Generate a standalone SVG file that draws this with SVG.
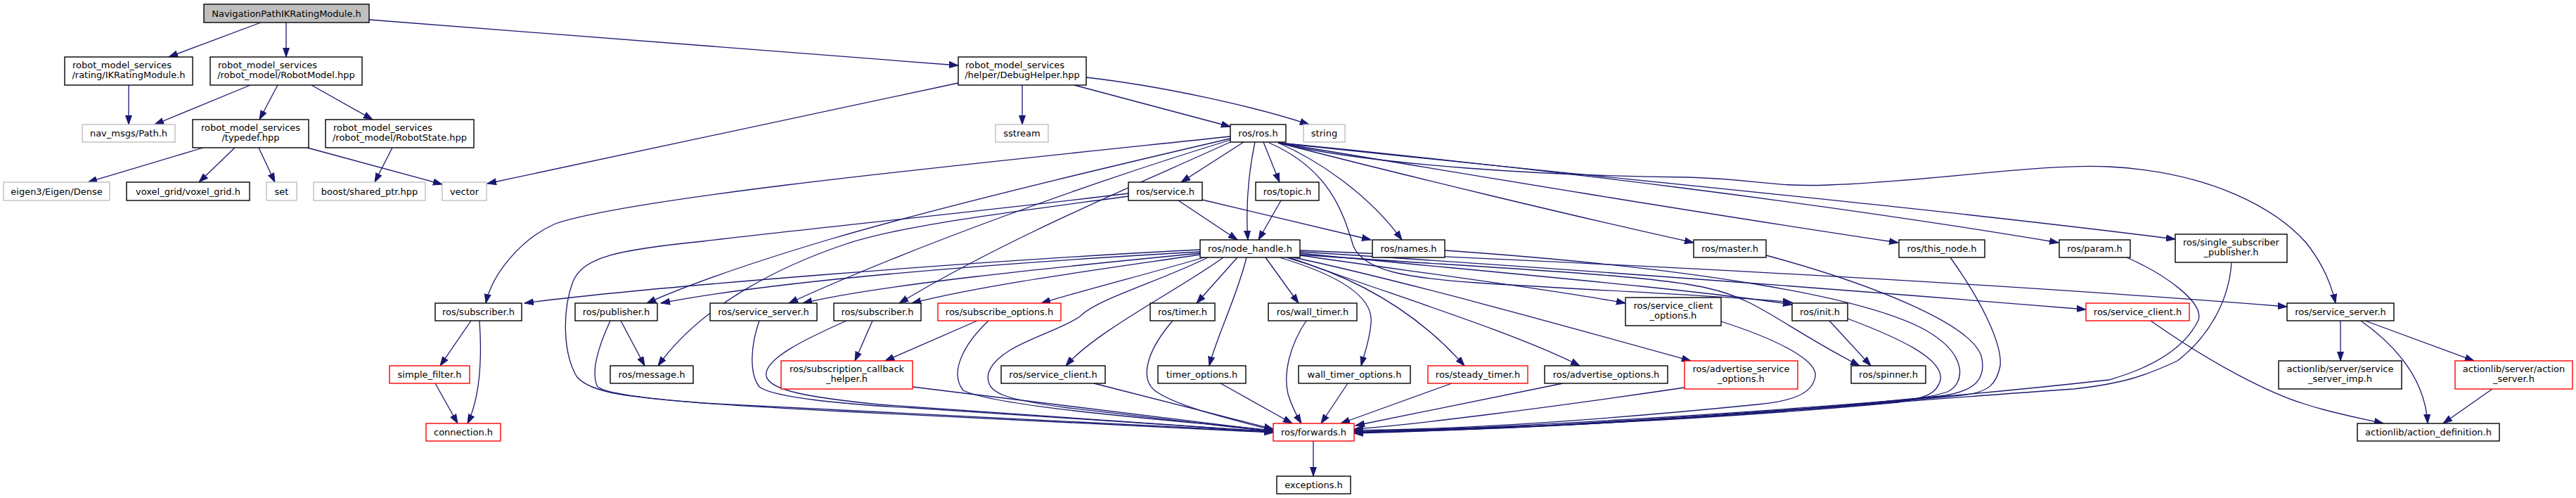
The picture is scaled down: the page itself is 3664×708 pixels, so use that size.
<svg xmlns="http://www.w3.org/2000/svg" width="3664" height="708" viewBox="0 0 3664 708">
<defs>
<marker id="a" markerUnits="userSpaceOnUse" markerWidth="14" markerHeight="10" refX="13" refY="5" orient="auto" viewBox="0 0 14 10"><path d="M0,0.5 L13,5 L0,9.5 z" fill="#191970" stroke="#191970" stroke-width="1"/></marker>
<style>
.n rect{fill:#fff;stroke:#000;stroke-width:1.4}
.g rect{stroke:#bfbfbf}
.r rect{stroke:#ff0000}
.root rect{fill:#bfbfbf}
text{font-family:"DejaVu Sans","Liberation Sans",sans-serif;font-size:13px;fill:#000;text-anchor:middle}
text.l{text-anchor:start}
.e path{fill:none;stroke:#191970;stroke-width:1.3;marker-end:url(#a)}
</style>
</defs>
<rect width="3664" height="708" fill="#fff"/>
<g id="edges" class="e">
<path d="M371,32 L240,81"/>
<path d="M407,32 L407,81"/>
<path d="M525,28 L1363,93"/>
<path d="M183,121 L183,177"/>
<path d="M356,121 L220,177"/>
<path d="M395,121 L369,170"/>
<path d="M443,121 L530,170"/>
<path d="M289,210 L125,259"/>
<path d="M334,210 L283,259"/>
<path d="M368,210 L391,259"/>
<path d="M437,210 L629,262"/>
<path d="M558,210 L533,259"/>
<path d="M1363,118 L693,261"/>
<path d="M1454,121 L1454,177"/>
<path d="M1528,121 L1750,180"/>
<path d="M1545,110 C1650,122 1780,150 1862,177"/>
<path d="M1769,202 L1680,259"/>
<path d="M1785,202 C1775,250 1772,300 1775,341"/>
<path d="M1797,202 L1820,259"/>
<path d="M1822,285 L1790,341"/>
<path d="M1676,285 L1760,341"/>
<path d="M1710,284 L1950,341"/>
<path d="M1818,203 C1880,230 1950,280 1994,341"/>
<path d="M1818,203 C2000,250 2250,310 2409,345"/>
<path d="M1818,203 C2100,250 2400,300 2700,345"/>
<path d="M1818,203 C2200,240 2600,290 2928,345"/>
<path d="M1818,203 C2200,245 2700,290 3094,340"/>
<path d="M1818,203 C1950,235 2200,250 2400,252 C2500,255 2520,266 2600,263 C2750,258 2900,232 3000,237 C3150,245 3240,300 3280,345 C3300,370 3315,400 3322,431"/>
<path d="M1750,194 C1400,231 900,280 790,318 C740,340 700,390 691,431"/>
<path d="M1750,197 C1500,255 1300,305 1181,340 C1080,370 990,400 920,431"/>
<path d="M1750,199 C1550,260 1300,350 1122,431"/>
<path d="M1750,202 C1600,270 1430,340 1279,431"/>
<path d="M1605,275 C1400,300 1150,325 1000,343 C880,355 830,365 815,400 C800,440 800,500 820,535 C840,560 900,565 1000,573 L1811,614"/>
<path d="M1605,279 C1450,300 1280,320 1200,348 C1120,375 1000,430 936,520"/>
<path d="M1707,355 C1400,370 900,410 746,431"/>
<path d="M1707,358 C1400,375 1100,400 940,431"/>
<path d="M1707,360 C1500,380 1250,405 1142,431"/>
<path d="M1707,362 C1550,385 1400,405 1297,431"/>
<path d="M1712,366 C1650,385 1550,410 1481,431"/>
<path d="M1740,366 C1680,410 1560,470 1516,520"/>
<path d="M1718,366 C1650,400 1560,425 1536,450 C1500,475 1420,490 1406,530 C1400,560 1430,568 1520,580 L1811,614"/>
<path d="M1760,366 L1702,431"/>
<path d="M1773,366 C1760,420 1730,480 1720,520"/>
<path d="M1800,366 L1847,431"/>
<path d="M1820,366 C1900,390 1955,420 1950,460 C1948,485 1940,505 1936,520"/>
<path d="M1830,366 C1950,400 2030,460 2083,520"/>
<path d="M1835,366 C1950,410 2150,470 2247,520"/>
<path d="M1840,366 C2000,400 2250,470 2405,513"/>
<path d="M1849,363 C2000,385 2200,410 2312,431"/>
<path d="M1849,360 C2100,385 2400,410 2549,433"/>
<path d="M1849,362 C2100,380 2350,390 2430,410 C2500,425 2530,460 2645,520"/>
<path d="M1849,358 C2200,380 2600,410 2967,440"/>
<path d="M1849,356 C2300,375 2800,400 3253,436"/>
<path d="M1805,203 C1890,240 1910,300 1925,350 C1940,385 2000,395 2100,402 C2300,415 2450,420 2549,430"/>
<path d="M2602,456 L2661,520"/>
<path d="M2628,453 C2700,480 2765,510 2760,540 C2755,560 2740,565 2700,572 C2400,600 2100,610 1926,614"/>
<path d="M2055,356 C2400,380 2650,420 2740,470 C2800,505 2795,545 2770,557 C2740,567 2700,570 2650,575 C2300,600 2100,612 1926,616"/>
<path d="M2512,363 C2650,400 2810,460 2819,510 C2825,545 2800,558 2760,563 C2400,600 2100,612 1926,615"/>
<path d="M2774,366 C2820,430 2848,490 2845,520 C2840,545 2830,558 2790,562 C2400,600 2100,612 1926,614"/>
<path d="M3025,366 C3080,390 3135,430 3127,455 C3110,490 3070,520 3000,540 C2600,585 2100,610 1926,614"/>
<path d="M3174,374 C3170,430 3140,480 3097,513 C3050,535 3020,545 2950,553 C2700,570 2500,590 2200,605 L1926,614"/>
<path d="M2448,457 C2520,480 2585,510 2582,535 C2578,560 2550,570 2500,575 C2300,595 2100,610 1926,612"/>
<path d="M2396,551 C2200,580 2000,605 1926,610"/>
<path d="M2223,545 L1928,605"/>
<path d="M2065,545 L1907,602"/>
<path d="M1917,545 L1879,602"/>
<path d="M1858,456 C1835,490 1825,530 1832,560 C1838,580 1845,592 1851,602"/>
<path d="M1736,545 L1838,602"/>
<path d="M1668,456 C1630,500 1620,540 1645,557 C1680,580 1750,595 1811,612"/>
<path d="M1556,545 L1811,610"/>
<path d="M1406,456 C1370,490 1350,530 1370,555 C1420,580 1700,600 1811,612"/>
<path d="M1298,550 L1811,613"/>
<path d="M1390,456 L1259,513"/>
<path d="M1241,456 L1216,513"/>
<path d="M1204,456 C1150,480 1085,510 1090,535 C1095,555 1150,565 1250,575 L1811,614"/>
<path d="M1080,456 C1068,490 1065,530 1080,550 C1100,565 1200,575 1300,580 L1811,614"/>
<path d="M868,456 C850,495 840,530 850,550 C870,565 1000,575 1200,585 L1811,615"/>
<path d="M883,456 L917,520"/>
<path d="M670,456 L626,520"/>
<path d="M682,456 C685,500 685,560 665,602"/>
<path d="M619,545 L651,602"/>
<path d="M1868,627 L1868,677"/>
<path d="M3329,456 L3329,513"/>
<path d="M3358,456 C3420,500 3450,550 3453,602"/>
<path d="M3364,456 L3519,513"/>
<path d="M3545,553 L3475,602"/>
<path d="M3059,456 C3150,520 3230,560 3280,575 C3320,588 3360,595 3390,602"/>
</g>
<g id="n1" class="n root"><rect x="290" y="6" width="235" height="26"/><text x="407.5" y="24">NavigationPathIKRatingModule.h</text></g>
<g id="n2" class="n"><rect x="92" y="81" width="182" height="40"/><text class="l" x="103" y="97">robot_model_services</text><text x="183" y="111">/rating/IKRatingModule.h</text></g>
<g id="n3" class="n"><rect x="299" y="81" width="216" height="40"/><text class="l" x="310" y="97">robot_model_services</text><text x="407" y="111">/robot_model/RobotModel.hpp</text></g>
<g id="n4" class="n"><rect x="1363" y="81" width="182" height="40"/><text class="l" x="1373" y="97">robot_model_services</text><text x="1454" y="111">/helper/DebugHelper.hpp</text></g>
<g id="n5" class="n g"><rect x="117" y="177" width="132" height="25"/><text x="183" y="194">nav_msgs/Path.h</text></g>
<g id="n6" class="n"><rect x="274" y="170" width="165" height="40"/><text x="356.5" y="186">robot_model_services</text><text x="356.5" y="200">/typedef.hpp</text></g>
<g id="n7" class="n"><rect x="463" y="170" width="211" height="40"/><text class="l" x="474" y="186">robot_model_services</text><text x="568.5" y="200">/robot_model/RobotState.hpp</text></g>
<g id="n8" class="n g"><rect x="1416" y="177" width="75" height="25"/><text x="1453.5" y="194">sstream</text></g>
<g id="n9" class="n"><rect x="1750" y="177" width="79" height="25"/><text x="1789.5" y="194">ros/ros.h</text></g>
<g id="n10" class="n g"><rect x="1854" y="177" width="59" height="25"/><text x="1883.5" y="194">string</text></g>
<g id="n11" class="n g"><rect x="5" y="259" width="151" height="26"/><text x="80.5" y="277">eigen3/Eigen/Dense</text></g>
<g id="n12" class="n"><rect x="180" y="259" width="175" height="26"/><text x="267.5" y="277">voxel_grid/voxel_grid.h</text></g>
<g id="n13" class="n g"><rect x="379" y="259" width="43" height="26"/><text x="400.5" y="277">set</text></g>
<g id="n14" class="n g"><rect x="446" y="259" width="159" height="26"/><text x="525.5" y="277">boost/shared_ptr.hpp</text></g>
<g id="n15" class="n g"><rect x="629" y="259" width="63" height="26"/><text x="660.5" y="277">vector</text></g>
<g id="n16" class="n"><rect x="1605" y="259" width="105" height="26"/><text x="1657.5" y="277">ros/service.h</text></g>
<g id="n17" class="n"><rect x="1786" y="259" width="90" height="26"/><text x="1831" y="277">ros/topic.h</text></g>
<g id="n18" class="n"><rect x="1707" y="341" width="142" height="25"/><text x="1778" y="358">ros/node_handle.h</text></g>
<g id="n19" class="n"><rect x="1952" y="341" width="103" height="25"/><text x="2003.5" y="358">ros/names.h</text></g>
<g id="n20" class="n"><rect x="2409" y="341" width="103" height="25"/><text x="2460.5" y="358">ros/master.h</text></g>
<g id="n21" class="n"><rect x="2701" y="341" width="122" height="25"/><text x="2762" y="358">ros/this_node.h</text></g>
<g id="n22" class="n"><rect x="2929" y="341" width="101" height="25"/><text x="2979.5" y="358">ros/param.h</text></g>
<g id="n23" class="n"><rect x="3094" y="333" width="159" height="40"/><text x="3173.5" y="349">ros/single_subscriber</text><text x="3173.5" y="363">_publisher.h</text></g>
<g id="n24" class="n"><rect x="619" y="431" width="123" height="25"/><text x="680.5" y="448">ros/subscriber.h</text></g>
<g id="n25" class="n"><rect x="818" y="431" width="117" height="25"/><text x="876.5" y="448">ros/publisher.h</text></g>
<g id="n26" class="n"><rect x="1010" y="431" width="152" height="25"/><text x="1086" y="448">ros/service_server.h</text></g>
<g id="n27" class="n"><rect x="1186" y="431" width="124" height="25"/><text x="1248" y="448">ros/subscriber.h</text></g>
<g id="n28" class="n r"><rect x="1334" y="431" width="175" height="25"/><text x="1421.5" y="448">ros/subscribe_options.h</text></g>
<g id="n29" class="n"><rect x="1636" y="431" width="92" height="25"/><text x="1682" y="448">ros/timer.h</text></g>
<g id="n30" class="n"><rect x="1804" y="431" width="126" height="25"/><text x="1867" y="448">ros/wall_timer.h</text></g>
<g id="n31" class="n"><rect x="2312" y="423" width="136" height="40"/><text x="2380" y="439">ros/service_client</text><text x="2380" y="453">_options.h</text></g>
<g id="n32" class="n"><rect x="2549" y="431" width="79" height="25"/><text x="2588.5" y="448">ros/init.h</text></g>
<g id="n33" class="n r"><rect x="2967" y="431" width="147" height="25"/><text x="3040.5" y="448">ros/service_client.h</text></g>
<g id="n34" class="n"><rect x="3253" y="431" width="152" height="25"/><text x="3329" y="448">ros/service_server.h</text></g>
<g id="n35" class="n r"><rect x="554" y="520" width="114" height="25"/><text x="611" y="537">simple_filter.h</text></g>
<g id="n36" class="n"><rect x="868" y="520" width="118" height="25"/><text x="927" y="537">ros/message.h</text></g>
<g id="n37" class="n r"><rect x="1111" y="513" width="187" height="40"/><text x="1204.5" y="529">ros/subscription_callback</text><text x="1204.5" y="543">_helper.h</text></g>
<g id="n38" class="n"><rect x="1424" y="520" width="148" height="25"/><text x="1498" y="537">ros/service_client.h</text></g>
<g id="n39" class="n"><rect x="1647" y="520" width="125" height="25"/><text x="1709.5" y="537">timer_options.h</text></g>
<g id="n40" class="n"><rect x="1847" y="520" width="159" height="25"/><text x="1926.5" y="537">wall_timer_options.h</text></g>
<g id="n41" class="n r"><rect x="2031" y="520" width="142" height="25"/><text x="2102" y="537">ros/steady_timer.h</text></g>
<g id="n42" class="n"><rect x="2197" y="520" width="175" height="25"/><text x="2284.5" y="537">ros/advertise_options.h</text></g>
<g id="n43" class="n r"><rect x="2396" y="513" width="161" height="40"/><text x="2476.5" y="529">ros/advertise_service</text><text x="2476.5" y="543">_options.h</text></g>
<g id="n44" class="n"><rect x="2633" y="520" width="106" height="25"/><text x="2686" y="537">ros/spinner.h</text></g>
<g id="n45" class="n"><rect x="3241" y="513" width="175" height="40"/><text x="3328.5" y="529">actionlib/server/service</text><text x="3328.5" y="543">_server_imp.h</text></g>
<g id="n46" class="n r"><rect x="3492" y="513" width="167" height="40"/><text x="3575.5" y="529">actionlib/server/action</text><text x="3575.5" y="543">_server.h</text></g>
<g id="n47" class="n r"><rect x="606" y="602" width="106" height="25"/><text x="659" y="619">connection.h</text></g>
<g id="n48" class="n r"><rect x="1811" y="602" width="115" height="25"/><text x="1868.5" y="619">ros/forwards.h</text></g>
<g id="n49" class="n"><rect x="3353" y="602" width="202" height="25"/><text x="3454" y="619">actionlib/action_definition.h</text></g>
<g id="n50" class="n"><rect x="1816" y="677" width="105" height="25"/><text x="1868.5" y="694">exceptions.h</text></g>
</svg>
